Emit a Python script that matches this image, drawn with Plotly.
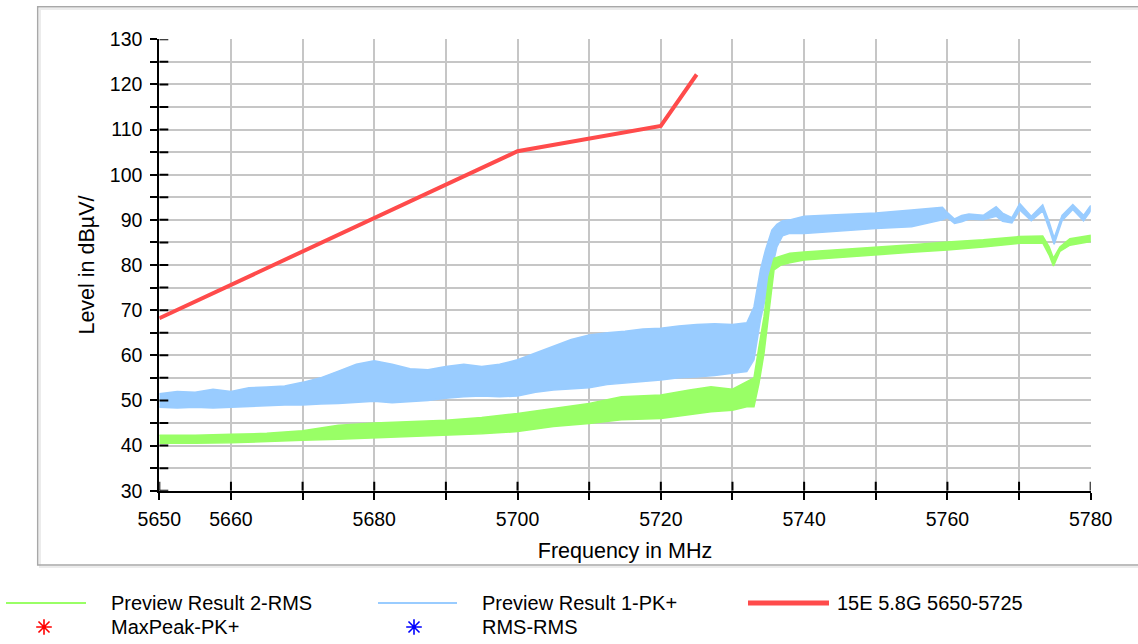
import plotly.graph_objects as go

W, H = 1138, 644

# ---------------- data ----------------
LIMIT_FREQ = [5650, 5700, 5720, 5725]
LIMIT_LEVEL = [68.2, 105.2, 110.8, 122.2]

PK_FREQ = [5650, 5652.5, 5655, 5657.5, 5660, 5662.5, 5665, 5667.5, 5670, 5672.5,
           5675, 5677.5, 5680, 5682.5, 5685, 5687.5, 5690, 5692.5, 5695, 5697.5,
           5700, 5702.5, 5705, 5707.5, 5710, 5712.5, 5715, 5717.5, 5720, 5722.5,
           5725, 5727.5, 5730, 5732, 5733, 5733.9, 5734.6, 5735.5, 5736.2, 5737,
           5738, 5740, 5743.7, 5747, 5750, 5755, 5759.3, 5760, 5761, 5762,
           5763, 5765, 5766.8, 5767.7, 5769, 5770.1, 5771.7, 5773.3, 5774.2, 5774.9,
           5776, 5777.5, 5779, 5780]
PK_LOW = [48.5, 48.3, 48.5, 48.3, 48.5, 48.7, 48.8, 49.0, 49.0, 49.2,
          49.3, 49.5, 49.8, 49.5, 49.8, 50.0, 50.5, 50.8, 51.0, 50.8,
          51.0, 51.8, 52.3, 52.5, 52.8, 53.5, 53.8, 54.2, 54.5, 55.0,
          55.2, 55.5, 56.0, 56.4, 59.0, 67.8, 73.0, 78.9, 84.0, 86.5,
          87.0, 87.0, 87.4, 87.8, 88.1, 88.5, 90.0, 90.5, 89.2, 89.6,
          90.2, 90.0, 90.8, 89.7, 89.3, 92.2, 89.8, 92.0, 88.0, 84.6,
          89.8, 92.3, 89.8, 92.0]
PK_HIGH = [51.5, 52.0, 51.8, 52.5, 52.0, 52.8, 53.0, 53.2, 54.0, 55.0,
           56.5, 58.0, 58.8, 58.0, 57.0, 56.8, 57.5, 58.0, 57.5, 58.0,
           59.0, 60.5, 62.0, 63.5, 64.5, 65.0, 65.3, 65.8, 66.0, 66.5,
           66.8, 67.0, 66.8, 67.2, 70.7, 78.9, 83.3, 87.7, 89.0, 89.8,
           90.0, 90.8, 91.1, 91.3, 91.5, 92.2, 92.8, 91.6, 90.2, 91.0,
           91.3, 91.0, 92.9, 91.5, 90.5, 93.6, 90.8, 93.3, 89.5, 86.0,
           91.0, 93.4, 91.0, 93.2]

RMS_FREQ = [5650, 5655, 5660, 5665, 5670, 5675, 5680, 5685, 5690, 5695,
            5700, 5705, 5710, 5714.5, 5720, 5724, 5727, 5730, 5732, 5733,
            5733.7, 5734.4, 5735.1, 5735.8, 5736.8, 5738, 5740, 5745, 5750, 5755,
            5760, 5765, 5770, 5773.3, 5774.2, 5774.8, 5775.7, 5777.1, 5780]
RMS_LOW = [40.5, 40.5, 40.6, 40.9, 41.2, 41.4, 41.6, 42.0, 42.3, 42.6,
           43.1, 44.2, 44.9, 45.7, 46.0, 46.8, 47.5, 47.8, 48.6, 48.6,
           53.8, 60.4, 70.0, 78.9, 80.0, 80.5, 81.1, 81.6, 82.2, 82.8,
           83.3, 84.0, 84.8, 84.9, 82.2, 79.8, 83.0, 84.4, 85.2]
RMS_HIGH = [42.3, 42.3, 42.5, 42.7, 43.3, 44.5, 45.0, 45.3, 45.6, 46.2,
            47.1, 48.2, 49.3, 50.8, 51.2, 52.3, 53.0, 52.5, 54.1, 55.0,
            61.9, 68.5, 77.4, 81.5, 82.0, 82.6, 82.9, 83.4, 84.0, 84.5,
            85.1, 85.6, 86.3, 86.4, 84.0, 81.5, 84.0, 85.8, 86.6]

X_TICK_VALUES = [5650, 5660, 5670, 5680, 5690, 5700, 5710, 5720, 5730, 5740, 5750, 5760, 5770, 5780]
X_TICK_TEXT = ["5650", "5660", "", "5680", "", "5700", "", "5720", "", "5740", "", "5760", "", "5780"]
Y_TICK_VALUES = [30, 35, 40, 45, 50, 55, 60, 65, 70, 75, 80, 85, 90, 95, 100, 105, 110, 115, 120, 125, 130]
Y_TICK_TEXT = ["30", "", "40", "", "50", "", "60", "", "70", "", "80", "", "90", "", "100", "",
               "110", "", "120", "", "130"]

SERIES_NAMES = ["Preview Result 2-RMS", "Preview Result 1-PK+", "15E 5.8G 5650-5725",
                "MaxPeak-PK+", "RMS-RMS"]

# ---------------- styles ----------------
GREEN = "#99ff66"
BLUE = "#99ccff"
RED = "#ff4b4b"
FONT = "Liberation Sans, Arial, sans-serif"
FS_TICK = 19.5
FS_TITLE = 21.5
FS_LEG = 20
GRID = "#c6c6c6"
X_RANGE = [5650, 5780]
Y_RANGE = [30, 130]

# plot area in pixels
PX0, PX1 = 159.3, 1090.7
PY0, PY1 = 39.3, 490.7

fig = go.Figure()


def band(freq, low, high, color, name):
    fig.add_trace(go.Scatter(
        x=list(freq) + list(freq)[::-1],
        y=list(high) + list(low)[::-1],
        mode="lines", fill="toself", fillcolor=color,
        line=dict(color=color, width=1.5), name=name, showlegend=False,
        hoverinfo="skip"))


band(PK_FREQ, PK_LOW, PK_HIGH, BLUE, SERIES_NAMES[1])
band(RMS_FREQ, RMS_LOW, RMS_HIGH, GREEN, SERIES_NAMES[0])
fig.add_trace(go.Scatter(x=LIMIT_FREQ, y=LIMIT_LEVEL, mode="lines",
                         line=dict(color=RED, width=4), name=SERIES_NAMES[2],
                         showlegend=False))

# ---------------- custom legend (pixel space axis) ----------------
LEG_ROW = [603, 627]
LEG_LINE_X = [(6, 86), (378, 457), (748, 829)]
LEG_TEXT_X = [109, 480, 835]
LEG_MARK_X = [44, 414]
leg_line_styles = [(GREEN, 2), (BLUE, 2), (RED, 5)]
for (x0, x1), (c, w) in zip(LEG_LINE_X, leg_line_styles):
    fig.add_trace(go.Scatter(x=[x0, x1], y=[LEG_ROW[0], LEG_ROW[0]], mode="lines",
                             line=dict(color=c, width=w), xaxis="x2", yaxis="y2",
                             showlegend=False, hoverinfo="skip"))
for xm, c in zip(LEG_MARK_X, ["#ff0000", "#0000ff"]):
    fig.add_trace(go.Scatter(x=[xm], y=[LEG_ROW[1]], mode="markers",
                             marker=dict(symbol="asterisk-open", size=13, color=c,
                                         line=dict(color=c, width=1.6)),
                             xaxis="x2", yaxis="y2", showlegend=False, hoverinfo="skip"))

annotations = []
for i, name in enumerate(SERIES_NAMES):
    row = 0 if i < 3 else 1
    col = i if i < 3 else i - 3
    annotations.append(dict(x=LEG_TEXT_X[col], y=LEG_ROW[row], xref="x2", yref="y2",
                            text=name, showarrow=False, xanchor="left", yanchor="middle",
                            font=dict(family=FONT, size=FS_LEG, color="black")))

shapes = [
    # frame shadow + frame
    dict(type="rect", xref="paper", yref="paper",
         x0=40 / W, x1=1150 / W, y0=1 - 567 / H, y1=1 - 9 / H,
         line=dict(color="#ececec", width=2), layer="below"),
    dict(type="rect", xref="paper", yref="paper",
         x0=37.7 / W, x1=1150 / W, y0=1 - 565 / H, y1=1 - 6.7 / H,
         line=dict(color="#a8a8a8", width=1.5), layer="below"),
]
# inner half of the crossing tick marks (the outer half is the axis' own tick)
INNER_TICK = 9
for v in X_TICK_VALUES:
    shapes.append(dict(type="line", xref="x", yref="y", ysizemode="pixel",
                       yanchor=Y_RANGE[0], x0=v, x1=v, y0=0, y1=INNER_TICK,
                       line=dict(color="black", width=2), layer="above"))
for v in Y_TICK_VALUES:
    shapes.append(dict(type="line", xref="x", yref="y", xsizemode="pixel",
                       xanchor=X_RANGE[0], x0=0, x1=INNER_TICK, y0=v, y1=v,
                       line=dict(color="black", width=2), layer="above"))

dom_x = [PX0 / W, PX1 / W]
dom_y = [1 - PY1 / H, 1 - PY0 / H]

tickfont = dict(family=FONT, size=FS_TICK, color="black")
titlefont = dict(family=FONT, size=FS_TITLE, color="black")

fig.update_layout(
    width=W, height=H,
    margin=dict(l=0, r=0, t=0, b=0),
    paper_bgcolor="white", plot_bgcolor="rgba(0,0,0,0)",
    showlegend=False,
    font=dict(family=FONT, size=FS_TICK, color="black"),
    xaxis=dict(domain=dom_x, range=X_RANGE, tickmode="array",
               tickvals=X_TICK_VALUES, ticktext=X_TICK_TEXT,
               ticks="outside", ticklen=7, tickwidth=2, tickcolor="black",
               showline=True, linecolor="black", linewidth=2,
               showgrid=True, gridcolor=GRID, gridwidth=2, zeroline=False,
               tickfont=tickfont, ticklabelstandoff=3, automargin=False,
               title=dict(text="Frequency in MHz", font=titlefont, standoff=14),
               anchor="y"),
    yaxis=dict(domain=dom_y, range=Y_RANGE, tickmode="array",
               tickvals=Y_TICK_VALUES, ticktext=Y_TICK_TEXT,
               ticks="outside", ticklen=7, tickwidth=2, tickcolor="black",
               showline=True, linecolor="black", linewidth=2,
               showgrid=True, gridcolor=GRID, gridwidth=2, zeroline=False,
               tickfont=tickfont, ticklabelstandoff=4, automargin=False,
               title=dict(text="Level in dBµV/", font=titlefont, standoff=9),
               anchor="x"),
    xaxis2=dict(domain=[0, 1], range=[0, W], visible=False, anchor="y2",
                fixedrange=True),
    yaxis2=dict(domain=[0, 1], range=[H, 0], visible=False, anchor="x2",
                fixedrange=True),
    annotations=annotations,
    shapes=shapes,
)

fig.write_html("out.html")
